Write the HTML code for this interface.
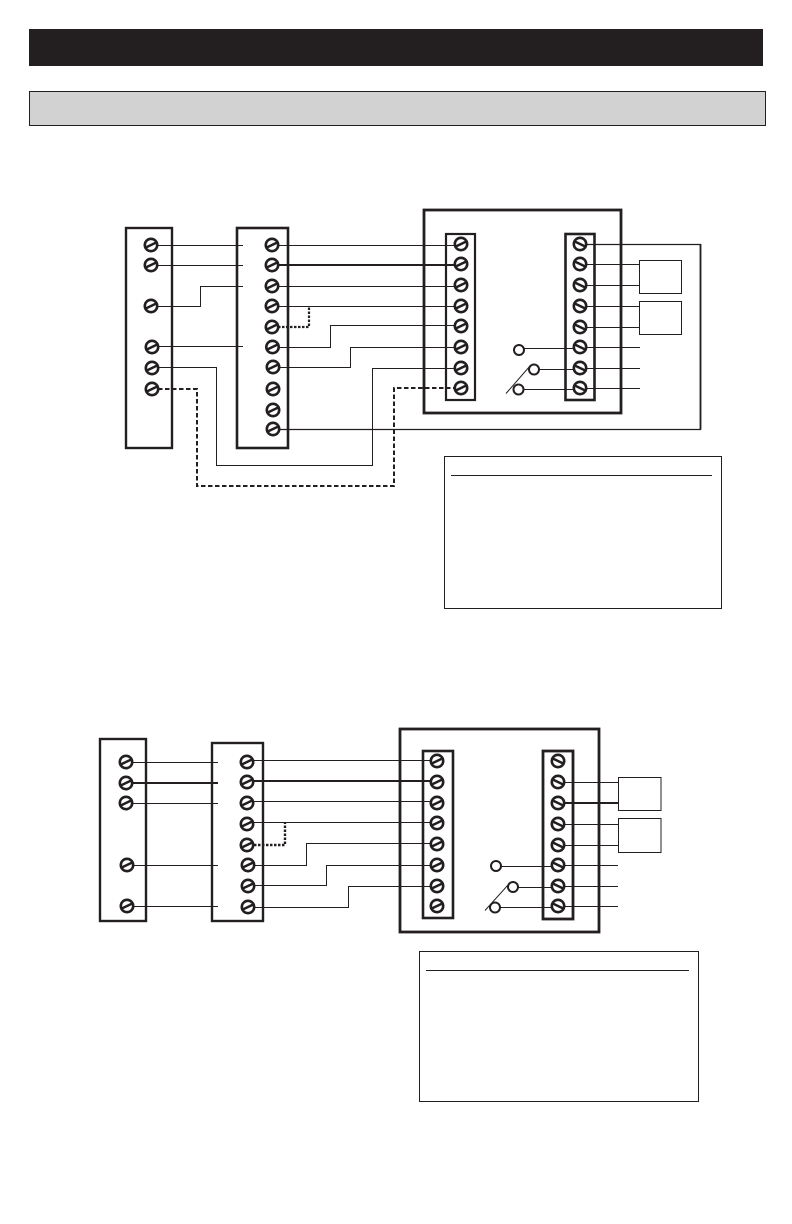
<!DOCTYPE html>
<html>
<head>
<meta charset="utf-8">
<style>
html,body{margin:0;padding:0;background:#fff;}
svg{display:block;}
</style>
</head>
<body>
<svg width="792" height="1224" viewBox="0 0 792 1224" xmlns="http://www.w3.org/2000/svg">
<defs>
<g id="a"><circle r="6.2" fill="#fff" stroke="#231f20" stroke-width="2.6"/><line x1="-5.5" y1="2.6" x2="5.5" y2="-2.6" stroke="#231f20" stroke-width="2.5"/></g>
<g id="b"><circle r="6.2" fill="#fff" stroke="#231f20" stroke-width="2.6"/><line x1="-5.5" y1="-2.6" x2="5.5" y2="2.6" stroke="#231f20" stroke-width="2.5"/></g>
</defs>
<rect width="792" height="1224" fill="#fff"/>
<rect x="29" y="29" width="734" height="37" fill="#231f20"/>
<rect x="29.5" y="91.5" width="736" height="34" fill="#d2d2d2" stroke="#231f20" stroke-width="1"/>

<!-- TOP DIAGRAM -->
<g fill="none" stroke="#231f20">
<rect x="126" y="228" width="46" height="220" stroke-width="2.4"/>
<rect x="237" y="228" width="51" height="220" stroke-width="2.6"/>
<rect x="424" y="210" width="197" height="203" stroke-width="2.8"/>
<rect x="446" y="234" width="29" height="166" stroke-width="2.2"/>
<rect x="565.5" y="234" width="29" height="166" stroke-width="2.6"/>
<rect x="639.5" y="260.5" width="42" height="33" stroke-width="1"/>
<rect x="639.5" y="301.5" width="42" height="33" stroke-width="1"/>
<rect x="444.5" y="456.5" width="277" height="152" stroke-width="1"/>
<line x1="451" y1="475.5" x2="712" y2="475.5" stroke-width="1"/>

<g stroke-width="1">
<path d="M157 245.5H243M157 265.5H243M157 306.5H200.500V286.500H243M158 346.500H243"/>
<path d="M158 367.500H216.500V465.500H372.500V368.500H455"/>
<path d="M278 245.500H455M278 286.500H455M278 306.500H455"/>
<path d="M278 347.500H330.500V325.500H455M278 367.500H350.500V347.500H455"/>
<path d="M586 264.500H639M586 285.500H639M586 306.500H639M586 327.500H639M586 347.500H640M586 368.500H640M586 388.500H640"/>
<path d="M524 348.500H575M539 369.500H575M523 389.500H575M506 393.500L530 366"/>
</g>
<path d="M278 429.500H700.500V244.500H586" stroke-width="1.200"/>
<path d="M278 265H455" stroke-width="2"/>
<path d="M158 389H197V486H394V388H455" stroke-width="2" stroke-dasharray="4.500 2.500"/>
<path d="M278 327H309V306" stroke-width="2.200" stroke-dasharray="2.500 1.500"/>
<path d="M700.500 244V429.500" stroke-width="1.800"/>
<g fill="#fff" stroke-width="2">
<circle cx="519" cy="350" r="5"/><circle cx="534" cy="369.500" r="5"/><circle cx="518.500" cy="389.500" r="5"/>
</g>

<!-- BOTTOM DIAGRAM -->
<rect x="100" y="739" width="46" height="182" stroke-width="2.400"/>
<rect x="212" y="743" width="51" height="178" stroke-width="2.400"/>
<rect x="400" y="729" width="199" height="203" stroke-width="2.800"/>
<rect x="423" y="751" width="30" height="167" stroke-width="2.600"/>
<rect x="543" y="751" width="30" height="168" stroke-width="2.800"/>
<rect x="618.500" y="777.500" width="42.500" height="33" stroke-width="1"/>
<rect x="618.500" y="818.500" width="42.500" height="34" stroke-width="1"/>
<rect x="419.500" y="951.500" width="279" height="150" stroke-width="1"/>
<line x1="426" y1="970.500" x2="689" y2="970.500" stroke-width="1"/>

<g stroke-width="1">
<path d="M132 762.500H218M132 803.500H218M132 865.500H218M133 906.500H218"/>
<path d="M253 760.500H430M253 801.500H430M253 822.500H430"/>
<path d="M254 865.500H306.500V843.500H430M254 885.500H326.500V865.500H430M254 907.500H348.500V886.500H430"/>
<path d="M564 782.500H618M564 824.500H618M564 845.500H618M564 865.500H618M564 886.500H618M564 906.500H618"/>
<path d="M501 866.500H552M518 887.500H552M500 907.500H552M485 910.500L508 885"/>
</g>
<path d="M132 783H218M253 781H430M564 803H618" stroke-width="2"/>
<path d="M254 845H285V823" stroke-width="2.400" stroke-dasharray="2.500 1.500"/>
<g fill="#fff" stroke-width="2">
<circle cx="496" cy="866" r="5"/><circle cx="513" cy="887" r="5"/><circle cx="495" cy="907.500" r="5"/>
</g>
</g>

<!-- TOP SCREWS -->
<use href="#a" x="151" y="245"/><use href="#a" x="151" y="265"/><use href="#a" x="151" y="306"/>
<use href="#a" x="152" y="347"/><use href="#a" x="152" y="368"/><use href="#a" x="152" y="389"/>
<use href="#a" x="272" y="245"/><use href="#a" x="272" y="265"/><use href="#a" x="272" y="286"/>
<use href="#a" x="272" y="306"/><use href="#a" x="272" y="327"/><use href="#a" x="272.500" y="347"/>
<use href="#a" x="273" y="367"/><use href="#a" x="273" y="389"/><use href="#a" x="273" y="410"/><use href="#a" x="273" y="429"/>
<use href="#a" x="461" y="244"/><use href="#a" x="461" y="264"/><use href="#a" x="461" y="285"/><use href="#a" x="461" y="306"/>
<use href="#a" x="461" y="326"/><use href="#a" x="461" y="347"/><use href="#a" x="461" y="368"/><use href="#a" x="461" y="388"/>
<use href="#b" x="580" y="244"/><use href="#b" x="580" y="264"/><use href="#b" x="580" y="285"/><use href="#b" x="580" y="306"/>
<use href="#b" x="580" y="327"/><use href="#b" x="580" y="347"/><use href="#b" x="580" y="368"/><use href="#b" x="580" y="388"/>

<!-- BOTTOM SCREWS -->
<use href="#a" x="126" y="762"/><use href="#a" x="126" y="783"/><use href="#a" x="126" y="803"/>
<use href="#a" x="127" y="865"/><use href="#a" x="127" y="906"/>
<use href="#a" x="247" y="762"/><use href="#a" x="247" y="782"/><use href="#a" x="247" y="803"/><use href="#a" x="247" y="824"/>
<use href="#a" x="247" y="845"/><use href="#a" x="248" y="865"/><use href="#a" x="248" y="886"/><use href="#a" x="248" y="907"/>
<use href="#a" x="437" y="761"/><use href="#a" x="437" y="782"/><use href="#a" x="437" y="803"/><use href="#a" x="437" y="823"/>
<use href="#a" x="437" y="844"/><use href="#a" x="437" y="865"/><use href="#a" x="437" y="886"/><use href="#a" x="437" y="906"/>
<use href="#b" x="558" y="761"/><use href="#b" x="558" y="782"/><use href="#b" x="558" y="803"/><use href="#b" x="558" y="824"/>
<use href="#b" x="558" y="845"/><use href="#b" x="558" y="865"/><use href="#b" x="558" y="886"/><use href="#b" x="558" y="906"/>
</svg>
</body>
</html>
